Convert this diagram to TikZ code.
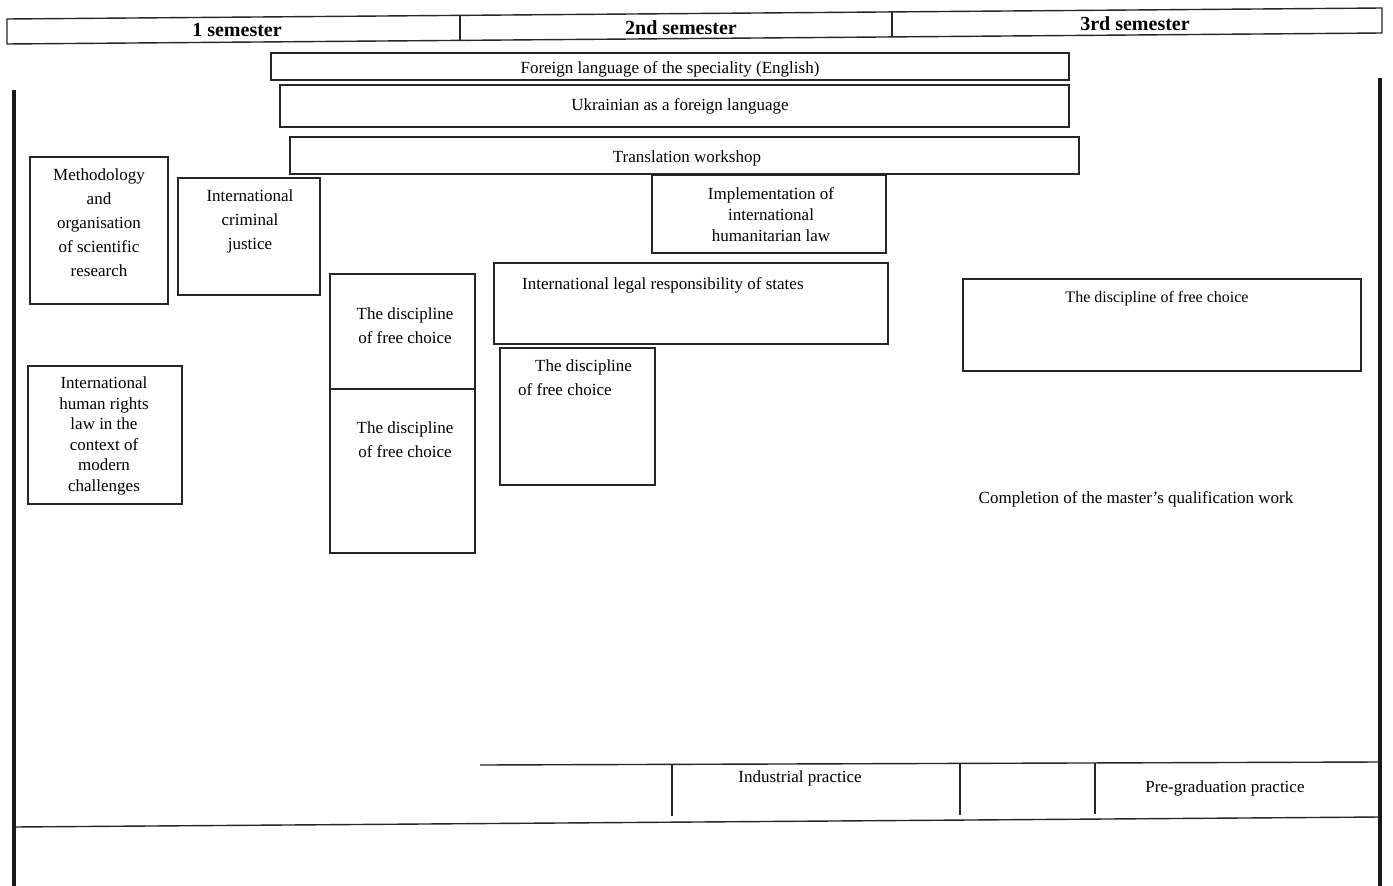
\documentclass[tikz,border=0pt]{standalone}
\usepackage{fontspec}
\setmainfont{Liberation Serif}
\begin{document}
\begin{tikzpicture}[x=1pt,y=-1pt,
  box/.style={draw=black!85,line width=1.4pt},
  rule/.style={draw=black!85,line width=1.4pt},
  edge/.style={draw=black!90,line width=3.5pt},
  txt/.style={inner sep=0pt,align=center,font=\fontsize{17}{24}\selectfont},
  txttight/.style={inner sep=0pt,align=center,font=\fontsize{17}{21}\selectfont},
  head/.style={inner sep=0pt,font=\fontsize{20}{24}\selectfont\bfseries}]
\useasboundingbox (0,0) rectangle (1393,886);
\fill[white] (0,0) rectangle (1393,886);
% header (slightly skewed, as scanned)
\draw[box] (7,19) -- (1382,8) -- (1382,33) -- (7,44) -- cycle;
\draw[rule] (460,15.4) -- (460,40.4);
\draw[rule] (892,11.9) -- (892,36.9);
\node[head] (s1) at (237,30) {1 semester};
\node[head] (s2) at (681,28) {2nd semester};
\node[head] (s3) at (1135,24) {3rd semester};
% side lines
\draw[edge] (14,90) -- (14,886);
\draw[edge] (1380,78) -- (1380,886);
% long bars
\draw[box] (271,53) rectangle (1069,80);
\node[txt] (fl) at (670,69) {Foreign language of the speciality (English)};
\draw[box] (280,85) rectangle (1069,127);
\node[txt] (ua) at (680,106) {Ukrainian as a foreign language};
\draw[box] (290,137) rectangle (1079,174);
\node[txt] (tw) at (687,158) {Translation workshop};
% semester 1
\draw[box] (30,157) rectangle (168,304);
\node[txt] (meth) at (99,223) {Methodology\\and\\organisation\\of scientific\\research};
\draw[box] (178,178) rectangle (320,295);
\node[txt] (icj) at (250,221) {International\\criminal\\justice};
\draw[box] (28,366) rectangle (182,504);
\node[inner sep=0pt,align=center,font=\fontsize{17}{20.6}\selectfont] (ihr) at (104,436) {International\\human rights\\law in the\\context of\\modern\\challenges};
\draw[box] (330,274) rectangle (475,553);
\draw[rule] (330,389) -- (475,389);
\node[txt] (dfc1) at (405,326) {The discipline\\of free choice};
\node[txt] (dfc2) at (405,440) {The discipline\\of free choice};
% semester 2
\draw[box] (652,175) rectangle (886,253);
\node[txttight] (ihl) at (771,215) {Implementation of\\international\\humanitarian law};
\draw[box] (494,263) rectangle (888,344);
\node[txt,anchor=west] (ilr) at (522,285) {International legal responsibility of states};
\draw[box] (500,348) rectangle (655,485);
\node[txt,align=left,anchor=north west] (dfc3) at (518,360) {\hspace*{17pt}The discipline\\of free choice};
% semester 3
\draw[box] (963,279) rectangle (1361,371);
\node[txt,font=\fontsize{16}{20}\selectfont] (dfc4) at (1157,299) {The discipline of free choice};
\node[txt] (mqw) at (1136,499) {Completion of the master's qualification work};
% practices
\draw[rule] (480,765) -- (1380,762);
\draw[rule] (14,827) -- (1380,817);
\draw[rule] (672,765) -- (672,816);
\draw[rule] (960,763) -- (960,815);
\draw[rule] (1095,763) -- (1095,814);
\node[txt] (ip) at (800,778) {Industrial practice};
\node[txt] (pgp) at (1225,788) {Pre-graduation practice};
\end{tikzpicture}
\end{document}
